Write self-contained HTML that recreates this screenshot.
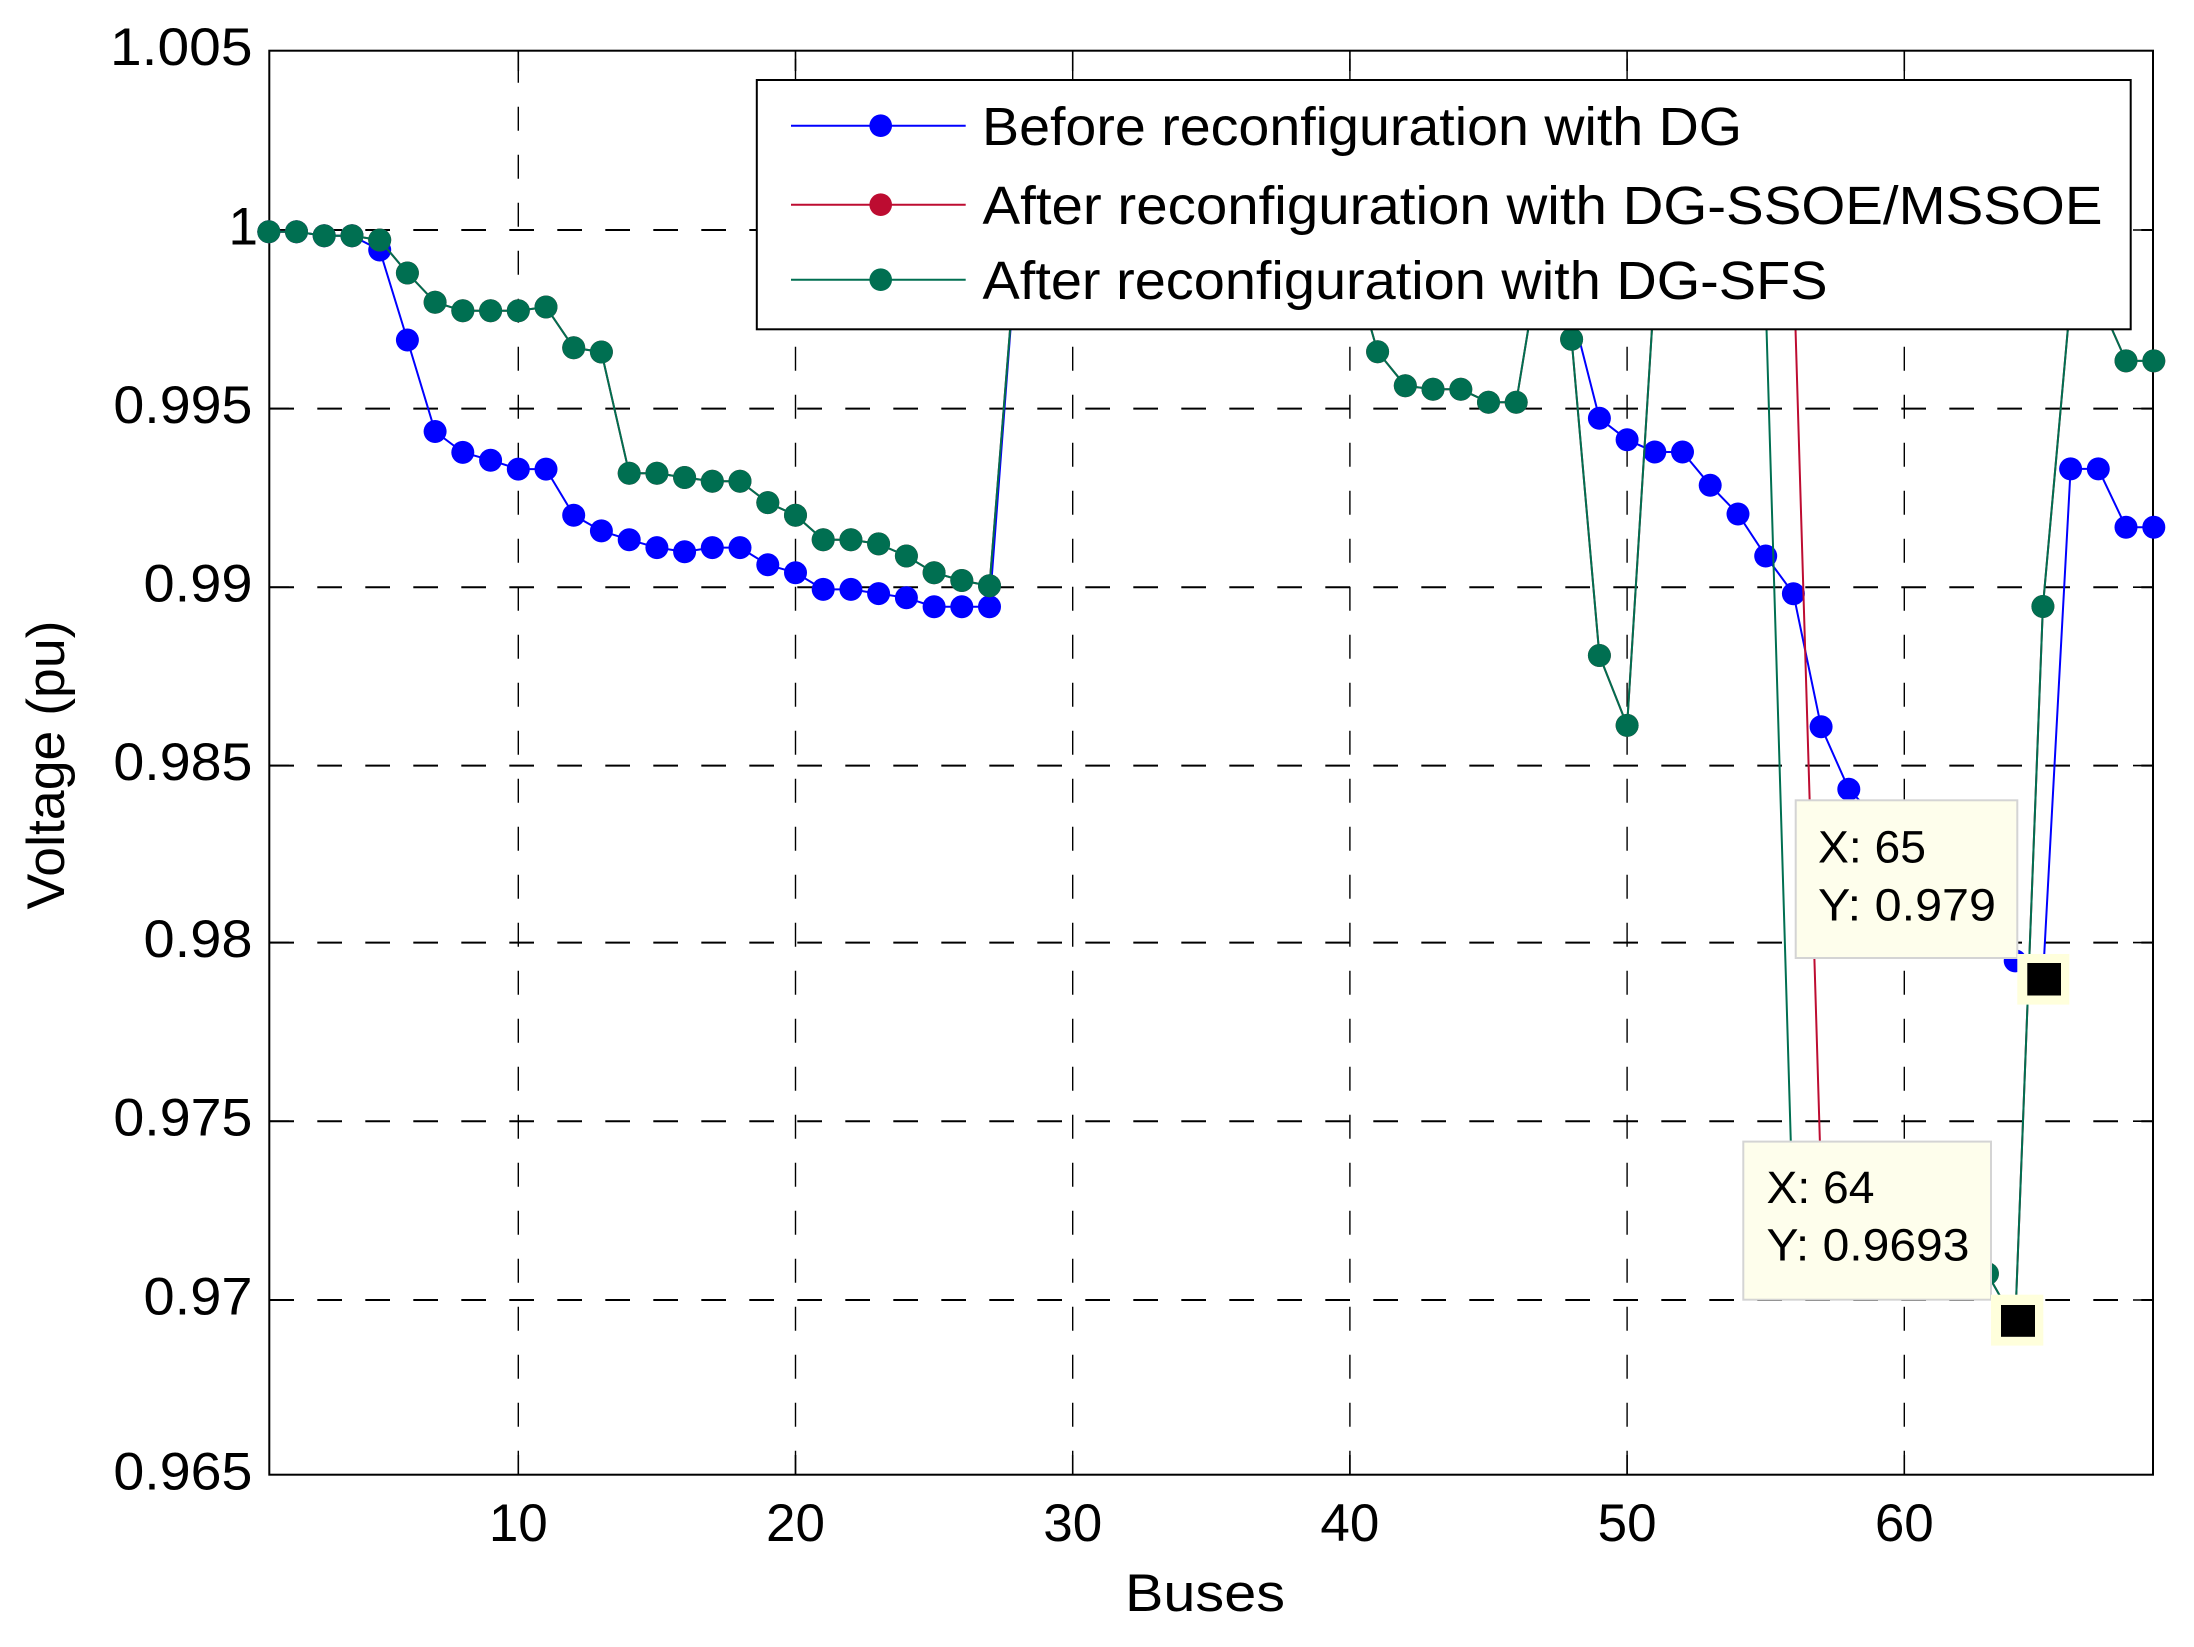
<!DOCTYPE html>
<html>
<head>
<meta charset="utf-8">
<style>
html,body{margin:0;padding:0;background:#fff;}
svg{display:block;}
text{font-family:"Liberation Sans",Arial,Helvetica,sans-serif;fill:#000;}
</style>
</head>
<body>
<svg xmlns="http://www.w3.org/2000/svg" width="2194" height="1647" viewBox="0 0 2194 1647">
<defs>
<marker id="mb" markerUnits="userSpaceOnUse" markerWidth="26" markerHeight="26" refX="13" refY="13"><circle cx="13" cy="13" r="11.5" fill="#0000FF"/></marker>
<marker id="mr" markerUnits="userSpaceOnUse" markerWidth="26" markerHeight="26" refX="13" refY="13"><circle cx="13" cy="13" r="11.5" fill="#BD0C31"/></marker>
<marker id="mg" markerUnits="userSpaceOnUse" markerWidth="26" markerHeight="26" refX="13" refY="13"><circle cx="13" cy="13" r="11.5" fill="#006F51"/></marker>
</defs>
<rect x="0" y="0" width="2194" height="1647" fill="#fff"/>

<!-- horizontal grid -->
<g stroke="#000" stroke-width="2" stroke-dasharray="24.7 23.3" fill="none">
<line x1="269.3" y1="230" x2="2153" y2="230"/>
<line x1="269.3" y1="408.6" x2="2153" y2="408.6"/>
<line x1="269.3" y1="587.2" x2="2153" y2="587.2"/>
<line x1="269.3" y1="765.6" x2="2153" y2="765.6"/>
<line x1="269.3" y1="942.6" x2="2153" y2="942.6"/>
<line x1="269.3" y1="1121.2" x2="2153" y2="1121.2"/>
<line x1="269.3" y1="1300" x2="2153" y2="1300"/>
</g>
<!-- vertical grid -->
<g stroke="#000" stroke-width="1.4" stroke-dasharray="24 24" fill="none">
<line x1="518.3" y1="1474.7" x2="518.3" y2="50.7"/>
<line x1="795.5" y1="1474.7" x2="795.5" y2="50.7"/>
<line x1="1072.7" y1="1474.7" x2="1072.7" y2="50.7"/>
<line x1="1349.9" y1="1474.7" x2="1349.9" y2="50.7"/>
<line x1="1627.1" y1="1474.7" x2="1627.1" y2="50.7"/>
<line x1="1904.3" y1="1474.7" x2="1904.3" y2="50.7"/>
</g>

<!-- axes box and ticks -->
<rect x="269.3" y="50.7" width="1883.7" height="1424" fill="none" stroke="#000" stroke-width="2"/>
<g stroke="#000" stroke-width="1.6">
<line x1="518.3" y1="1474.7" x2="518.3" y2="1455"/><line x1="795.5" y1="1474.7" x2="795.5" y2="1455"/><line x1="1072.7" y1="1474.7" x2="1072.7" y2="1455"/><line x1="1349.9" y1="1474.7" x2="1349.9" y2="1455"/><line x1="1627.1" y1="1474.7" x2="1627.1" y2="1455"/><line x1="1904.3" y1="1474.7" x2="1904.3" y2="1455"/>
<line x1="518.3" y1="50.7" x2="518.3" y2="71"/><line x1="795.5" y1="50.7" x2="795.5" y2="71"/><line x1="1072.7" y1="50.7" x2="1072.7" y2="71"/><line x1="1349.9" y1="50.7" x2="1349.9" y2="71"/><line x1="1627.1" y1="50.7" x2="1627.1" y2="71"/><line x1="1904.3" y1="50.7" x2="1904.3" y2="71"/>
<line x1="269.3" y1="230" x2="289" y2="230"/><line x1="269.3" y1="408.6" x2="289" y2="408.6"/><line x1="269.3" y1="587.2" x2="289" y2="587.2"/><line x1="269.3" y1="765.6" x2="289" y2="765.6"/><line x1="269.3" y1="942.6" x2="289" y2="942.6"/><line x1="269.3" y1="1121.2" x2="289" y2="1121.2"/><line x1="269.3" y1="1300" x2="289" y2="1300"/>
<line x1="2153" y1="230" x2="2133" y2="230"/><line x1="2153" y1="408.6" x2="2133" y2="408.6"/><line x1="2153" y1="587.2" x2="2133" y2="587.2"/><line x1="2153" y1="765.6" x2="2133" y2="765.6"/><line x1="2153" y1="942.6" x2="2133" y2="942.6"/><line x1="2153" y1="1121.2" x2="2133" y2="1121.2"/><line x1="2153" y1="1300" x2="2133" y2="1300"/>
</g>

<!-- Blue: before reconfiguration -->
<polyline fill="none" stroke="#0000FF" stroke-width="2" marker-start="url(#mb)" marker-mid="url(#mb)" marker-end="url(#mb)"
points="268.8,231.8 296.5,231.8 324.2,235.7 352.0,235.7 379.7,250.0 407.4,340.0 435.1,431.5 462.8,452.4 490.6,460.2 518.3,469.1 546.0,469.1 573.7,515.2 601.4,530.9 629.2,539.7 656.9,547.6 684.6,551.8 712.3,547.6 740.0,547.6 767.8,564.8 795.5,572.7 823.2,589.4 850.9,589.4 878.6,593.6 906.4,597.8 934.1,606.7 961.8,606.7 989.5,606.7 1017.2,240.7 1045.0,240.7 1072.7,240.7 1100.4,240.7 1128.1,240.7 1155.8,240.7 1183.6,240.7 1211.3,240.7 1239.0,237.1 1266.7,237.1 1294.4,237.1 1322.2,237.1 1349.9,237.1 1377.6,237.1 1405.3,237.1 1433.0,237.1 1460.8,237.1 1488.5,237.1 1516.2,237.1 1543.9,233.6 1571.6,309.2 1599.4,418.3 1627.1,439.7 1654.8,452.0 1682.5,452.0 1710.2,485.3 1738.0,514.0 1765.7,556.0 1793.4,593.7 1821.1,726.8 1848.8,789.2 1876.6,818.5 1904.3,850.6 1932.0,889.8 1959.7,922.0 1987.4,943.3 2015.2,960.9 2042.9,979.0 2070.6,468.9 2098.3,468.9 2126.0,527.2 2153.8,527.2"/>

<!-- Red: SSOE/MSSOE -->
<polyline fill="none" stroke="#BD0C31" stroke-width="2" marker-start="url(#mr)" marker-mid="url(#mr)" marker-end="url(#mr)"
points="268.8,231.8 296.5,231.8 324.2,235.7 352.0,235.7 379.7,240.0 407.4,273.0 435.1,302.3 462.8,310.7 490.6,310.7 518.3,310.7 546.0,307.0 573.7,347.8 601.4,352.0 629.2,473.3 656.9,473.3 684.6,477.5 712.3,481.2 740.0,481.2 767.8,502.6 795.5,515.2 823.2,539.7 850.9,539.7 878.6,543.9 906.4,556.0 934.1,572.7 961.8,580.5 989.5,585.8 1017.2,240.7 1045.0,240.7 1072.7,240.7 1100.4,240.7 1128.1,240.7 1155.8,240.7 1183.6,240.7 1211.3,240.7 1239.0,240.7 1266.7,240.7 1294.4,240.7 1322.2,240.7 1349.9,255.0 1377.6,351.7 1405.3,385.7 1433.0,389.3 1460.8,389.3 1488.5,402.3 1516.2,402.3 1543.9,233.6 1571.6,339.3 1599.4,655.5 1627.1,725.4 1654.8,283.5 1682.5,283.5 1710.2,290.6 1738.0,297.8 1765.7,301.3 1793.4,258.5 1821.1,1182.0 1848.8,1210.0 1876.6,1230.0 1904.3,1230.0 1932.0,1230.0 1959.7,1240.0 1987.4,1273.7 2015.2,1323.0 2042.9,606.5 2070.6,298.5 2098.3,298.5 2126.0,360.9 2153.8,360.9"/>

<!-- Green: SFS -->
<polyline fill="none" stroke="#006F51" stroke-width="2" marker-start="url(#mg)" marker-mid="url(#mg)" marker-end="url(#mg)"
points="268.8,231.8 296.5,231.8 324.2,235.7 352.0,235.7 379.7,240.0 407.4,273.0 435.1,302.3 462.8,310.7 490.6,310.7 518.3,310.7 546.0,307.0 573.7,347.8 601.4,352.0 629.2,473.3 656.9,473.3 684.6,477.5 712.3,481.2 740.0,481.2 767.8,502.6 795.5,515.2 823.2,539.7 850.9,539.7 878.6,543.9 906.4,556.0 934.1,572.7 961.8,580.5 989.5,585.8 1017.2,240.7 1045.0,240.7 1072.7,240.7 1100.4,240.7 1128.1,240.7 1155.8,240.7 1183.6,240.7 1211.3,240.7 1239.0,240.7 1266.7,240.7 1294.4,240.7 1322.2,240.7 1349.9,255.0 1377.6,351.7 1405.3,385.7 1433.0,389.3 1460.8,389.3 1488.5,402.3 1516.2,402.3 1543.9,233.6 1571.6,339.3 1599.4,655.5 1627.1,725.4 1654.8,283.5 1682.5,283.5 1710.2,290.6 1738.0,297.8 1765.7,301.3 1793.4,1228.7 1821.1,1246.6 1848.8,1257.3 1876.6,1264.4 1904.3,1264.4 1932.0,1268.0 1959.7,1271.5 1987.4,1273.7 2015.2,1323.0 2042.9,606.5 2070.6,298.5 2098.3,298.5 2126.0,360.9 2153.8,360.9"/>

<!-- Legend -->
<rect x="756.8" y="80" width="1373.9" height="249.3" fill="#fff" stroke="#000" stroke-width="2"/>
<line x1="791" y1="125.7" x2="965.7" y2="125.7" stroke="#0000FF" stroke-width="2"/>
<circle cx="880.7" cy="125.7" r="11.3" fill="#0000FF"/>
<line x1="791" y1="204.7" x2="965.7" y2="204.7" stroke="#BD0C31" stroke-width="2"/>
<circle cx="880.7" cy="204.7" r="11.3" fill="#BD0C31"/>
<line x1="791" y1="279.7" x2="965.7" y2="279.7" stroke="#006F51" stroke-width="2"/>
<circle cx="880.7" cy="279.7" r="11.3" fill="#006F51"/>
<text x="982" y="145" font-size="53.5" textLength="760" lengthAdjust="spacingAndGlyphs">Before reconfiguration with DG</text>
<text x="982.5" y="224" font-size="53.5" textLength="1120" lengthAdjust="spacingAndGlyphs">After reconfiguration with DG-SSOE/MSSOE</text>
<text x="982.5" y="299" font-size="53.5" textLength="845" lengthAdjust="spacingAndGlyphs">After reconfiguration with DG-SFS</text>

<!-- Data tips -->
<rect x="1795.7" y="800.3" width="221.6" height="157.7" fill="#FEFEEC" stroke="#D4D4D4" stroke-width="2"/>
<text x="1818" y="862.3" font-size="45" textLength="108" lengthAdjust="spacingAndGlyphs">X: 65</text>
<text x="1818" y="920.5" font-size="45" textLength="178" lengthAdjust="spacingAndGlyphs">Y: 0.979</text>
<rect x="2017.3" y="954" width="52" height="50.6" fill="#FFFFDC"/>
<rect x="2027.3" y="963" width="33.7" height="32.5" fill="#000"/>

<rect x="1743.3" y="1141.6" width="247.7" height="158.1" fill="#FEFEEC" stroke="#D4D4D4" stroke-width="2"/>
<text x="1766.5" y="1202.9" font-size="45" textLength="108" lengthAdjust="spacingAndGlyphs">X: 64</text>
<text x="1766.5" y="1260.3" font-size="45" textLength="203" lengthAdjust="spacingAndGlyphs">Y: 0.9693</text>
<rect x="1991" y="1294.7" width="52.3" height="50.9" fill="#FFFFDC"/>
<rect x="2001" y="1305" width="34" height="31.8" fill="#000"/>

<!-- Y tick labels -->
<g font-size="53">
<text x="110" y="65.2" textLength="142.5" lengthAdjust="spacingAndGlyphs">1.005</text>
<text x="258" y="244.5" text-anchor="end">1</text>
<text x="113.4" y="423.1" textLength="139" lengthAdjust="spacingAndGlyphs">0.995</text>
<text x="143.5" y="601.7" textLength="109" lengthAdjust="spacingAndGlyphs">0.99</text>
<text x="113.4" y="780.1" textLength="139" lengthAdjust="spacingAndGlyphs">0.985</text>
<text x="143.5" y="957.1" textLength="109" lengthAdjust="spacingAndGlyphs">0.98</text>
<text x="113.4" y="1135.7" textLength="139" lengthAdjust="spacingAndGlyphs">0.975</text>
<text x="143.5" y="1314.5" textLength="109" lengthAdjust="spacingAndGlyphs">0.97</text>
<text x="113.4" y="1489.5" textLength="139" lengthAdjust="spacingAndGlyphs">0.965</text>
</g>

<!-- X tick labels -->
<g font-size="53" text-anchor="middle">
<text x="518.3" y="1541">10</text>
<text x="795.5" y="1541">20</text>
<text x="1072.7" y="1541">30</text>
<text x="1349.9" y="1541">40</text>
<text x="1627.1" y="1541">50</text>
<text x="1904.3" y="1541">60</text>
</g>

<!-- Axis labels -->
<text x="1125" y="1611" font-size="53" textLength="160" lengthAdjust="spacingAndGlyphs">Buses</text>
<text transform="translate(64,909.5) rotate(-90)" x="0" y="0" font-size="53" textLength="289" lengthAdjust="spacingAndGlyphs">Voltage (pu)</text>
</svg>
</body>
</html>
